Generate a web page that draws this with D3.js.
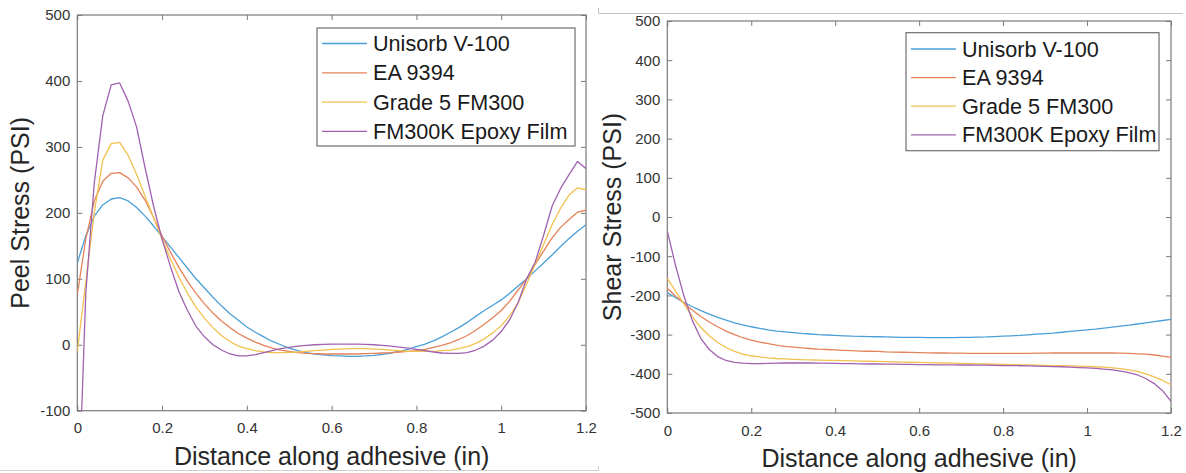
<!DOCTYPE html>
<html>
<head>
<meta charset="utf-8">
<script src="https://cdn.jsdelivr.net/npm/d3@7"></script>
<style>
  body { margin: 0; background: #fff; }
  text { font-family: "Liberation Sans", Arial, sans-serif; }
</style>
</head>
<body>
<script>
var width = 1186,
    height = 473;

// sample positions along the adhesive (in)
var xs = [0, 0.02, 0.04, 0.06, 0.08, 0.1, 0.12, 0.14, 0.16, 0.18, 0.2,
    0.22, 0.24, 0.26, 0.28, 0.3, 0.32, 0.34, 0.36, 0.38, 0.4,
    0.42, 0.44, 0.46, 0.48, 0.5, 0.52, 0.54, 0.56, 0.58, 0.6,
    0.62, 0.64, 0.66, 0.68, 0.7, 0.72, 0.74, 0.76, 0.78, 0.8,
    0.82, 0.84, 0.86, 0.88, 0.9, 0.92, 0.94, 0.96, 0.98, 1,
    1.02, 1.04, 1.06, 1.08, 1.1, 1.12, 1.14, 1.16, 1.18, 1.2];

var materials = ["Unisorb V-100", "EA 9394", "Grade 5 FM300", "FM300K Epoxy Film"];
var colors = ["#4a9fd8", "#e4825a", "#f2c04e", "#a062b0"];

// peel stress (PSI)
var peelUnisorb = [124, 165, 195, 212, 221, 223, 218, 208, 195, 180, 164,
    148, 132, 116, 100, 86, 72, 59, 47, 37, 27,
    19, 12, 5, 0, -5, -9, -12, -14, -15.5, -16.5,
    -17, -17.5, -17.5, -17, -16, -14.5, -12.5, -10, -7, -3,
    1, 6, 12, 19, 26, 34, 43, 52, 60, 68,
    78, 89, 100, 112, 124, 136, 149, 161, 172, 182];
var peelEA9394 = [76, 160, 218, 248, 260, 261, 253, 239, 219, 193, 165,
    140, 117, 96, 78, 62, 48, 36, 26, 17, 10,
    4, -1, -5, -8, -10, -12, -13, -13.5, -14, -14,
    -14, -14, -14, -13.5, -13, -12.5, -12, -11, -10, -9,
    -7, -4, -1, 3, 8, 14, 22, 31, 41, 52,
    66, 83, 100, 122, 142, 162, 178, 190, 201, 204];
var peelFM300 = [-10, 95, 200, 280, 305, 307, 287, 258, 225, 193, 160,
    130, 102, 78, 57, 40, 26, 14, 5, -2, -6,
    -9, -11, -12, -12, -11.5, -11, -10, -9, -8, -7,
    -6.5, -6, -6, -6, -6.5, -7, -8, -9, -10, -10,
    -10, -10, -9, -8, -6, -3, 2, 9, 18, 29,
    44, 64, 92, 122, 152, 182, 207, 227, 238, 235];
var peelFM300K = [-292, 78, 245, 347, 394, 397, 369, 330, 268, 210, 160,
    118, 80, 52, 28, 12, 0, -8, -14, -17, -17,
    -15, -12, -9, -6, -4, -2, -1, 0, 0.5, 1,
    1, 1, 1, 0.5, 0, -1, -2, -3.5, -5, -7,
    -9, -11, -12.5, -13, -13, -12, -8, -2, 7, 20,
    38, 64, 100, 125, 166, 210, 237, 258, 278, 267];

// shear stress (PSI)
var shearUnisorb = [-193, -206, -218, -229, -239, -248, -256, -263, -270, -275, -280,
    -284, -288, -291, -293, -295, -297, -298.5, -300, -301, -302,
    -303, -304, -304.5, -305, -305.5, -306, -306.5, -307, -307, -307,
    -307.5, -307.5, -307.5, -307.5, -307, -307, -306.5, -306, -305, -304,
    -303, -302, -300.5, -299, -297.5, -296, -294, -292, -290, -288,
    -286, -283.5, -281, -278.5, -276, -273, -270, -267, -264, -261];
var shearEA9394 = [-182, -202, -220, -238, -254, -268, -280, -291, -300, -308, -314,
    -319, -323, -327, -330, -332, -334, -335.5, -337, -338, -339,
    -340, -341, -342, -342.5, -343, -344, -344.5, -345, -345.5, -346,
    -346.5, -347, -347, -347.5, -347.5, -348, -348, -348, -348, -348,
    -348, -348, -348, -347.5, -347.5, -347, -347, -347, -347, -347,
    -347, -347, -347, -347.5, -348, -349, -350, -352, -355, -358];
var shearFM300 = [-156, -190, -222, -255, -282, -303, -320, -333, -343, -350, -354,
    -357, -359.5, -361, -362, -363, -364, -364.5, -365, -365.5, -366,
    -366.5, -367, -367.5, -368, -368.5, -369, -369.5, -370, -370.5, -371,
    -371.5, -372, -372.5, -373, -373.5, -374, -374.5, -375, -375.5, -376,
    -376.5, -377, -377.5, -378, -378.5, -379, -379.5, -380, -380.5, -381,
    -382, -383, -385, -387, -390, -394, -400, -408, -417, -428];
var shearFM300K = [-36, -125, -203, -265, -310, -338, -356, -366, -371, -373, -374,
    -374, -373.5, -373, -372.5, -372.5, -372.5, -372.5, -373, -373, -373.5,
    -374, -374, -374.5, -375, -375, -375.5, -375.5, -376, -376, -376.5,
    -376.5, -377, -377, -377, -377.5, -377.5, -378, -378, -378.5, -379,
    -379, -379.5, -380, -380.5, -381, -381.5, -382, -383, -384, -385,
    -386, -388, -390, -393, -397, -403, -412, -425, -443, -470];

var xTicks = [0, 0.2, 0.4, 0.6, 0.8, 1, 1.2];
var peelTicks = [-100, 0, 100, 200, 300, 400, 500];
var shearTicks = [-500, -400, -300, -200, -100, 0, 100, 200, 300, 400, 500];

var panels = [
    { id: "peel", left: 77.3, right: 586, top: 15, bottom: 410.7, yDomain: [-100, 500], yTicks: peelTicks,
      ylabel: "Peel Stress (PSI)", ylabX: 20, series: [peelUnisorb, peelEA9394, peelFM300, peelFM300K],
      legend: { x: 317, y: 28, w: 258, h: 118, row0: 43.5, dy: 29.3 } },
    { id: "shear", left: 667.3, right: 1171, top: 21, bottom: 413, yDomain: [-500, 500], yTicks: shearTicks,
      ylabel: "Shear Stress (PSI)", ylabX: 612, series: [shearUnisorb, shearEA9394, shearFM300, shearFM300K],
      legend: { x: 906, y: 32.7, w: 253, h: 118, row0: 49, dy: 28.6 } }
];

var svg = d3.select("body").append("svg")
    .attr("width", width)
    .attr("height", height);

// thin frames of the two pasted figures
svg.append("path")
    .attr("d", "M0,470.5H598.5V466")
    .attr("fill", "none").attr("stroke", "#cfcfcf");
svg.append("path")
    .attr("d", "M598.5,8V13.5H1183")
    .attr("fill", "none").attr("stroke", "#c4c4c4");

var fmt = d => String(d);

panels.forEach(function (p) {
    var x = d3.scaleLinear().domain([0, 1.2]).range([p.left, p.right]);
    var y = d3.scaleLinear().domain(p.yDomain).range([p.bottom, p.top]);
    var g = svg.append("g");

    g.append("clipPath").attr("id", "clip-" + p.id)
        .append("rect")
        .attr("x", p.left).attr("y", p.top)
        .attr("width", p.right - p.left).attr("height", p.bottom - p.top);

    // ticks on all four sides, pointing inward
    var axB = g.append("g").attr("transform", "translate(0," + p.bottom + ")")
        .call(d3.axisBottom(x).tickValues(xTicks).tickFormat(fmt).tickSizeInner(-5).tickSizeOuter(0).tickPadding(12));
    var axT = g.append("g").attr("transform", "translate(0," + p.top + ")")
        .call(d3.axisTop(x).tickValues(xTicks).tickFormat("").tickSizeInner(-5).tickSizeOuter(0));
    var axL = g.append("g").attr("transform", "translate(" + p.left + ",0)")
        .call(d3.axisLeft(y).tickValues(p.yTicks).tickFormat(fmt).tickSizeInner(-5).tickSizeOuter(0).tickPadding(7));
    var axR = g.append("g").attr("transform", "translate(" + p.right + ",0)")
        .call(d3.axisRight(y).tickValues(p.yTicks).tickFormat("").tickSizeInner(-5).tickSizeOuter(0));
    [axB, axT, axL, axR].forEach(function (a) {
        a.select(".domain").remove();
        a.selectAll("line").attr("stroke", "#7a7a7a");
        a.selectAll("text").attr("fill", "#333").style("font-size", "15px")
            .style("font-family", "'Liberation Sans', Arial, sans-serif");
    });

    g.append("rect")
        .attr("x", p.left).attr("y", p.top)
        .attr("width", p.right - p.left).attr("height", p.bottom - p.top)
        .attr("fill", "none").attr("stroke", "#7a7a7a").attr("stroke-width", 1.2);

    var line = d3.line()
        .x((d, i) => x(xs[i]))
        .y(d => y(d));

    g.append("g").attr("clip-path", "url(#clip-" + p.id + ")")
        .selectAll("path")
        .data(p.series)
        .enter().append("path")
        .attr("d", line)
        .attr("fill", "none")
        .attr("stroke", (d, i) => colors[i])
        .attr("stroke-width", 1.3)
        .attr("stroke-linejoin", "round");

    // axis labels
    g.append("text")
        .attr("x", (p.left + p.right) / 2)
        .attr("y", p.bottom + 45.5)
        .attr("dy", "0.35em")
        .attr("text-anchor", "middle")
        .attr("fill", "#262626")
        .style("font-size", "25px")
        .text("Distance along adhesive (in)");

    g.append("text")
        .attr("transform", "translate(" + p.ylabX + "," + (p.top + p.bottom) / 2 + ") rotate(-90)")
        .attr("dy", "0.35em")
        .attr("text-anchor", "middle")
        .attr("fill", "#262626")
        .style("font-size", "25px")
        .text(p.ylabel);

    // legend
    var L = p.legend;
    var gL = g.append("g");
    gL.append("rect")
        .attr("x", L.x).attr("y", L.y).attr("width", L.w).attr("height", L.h)
        .attr("fill", "#fff").attr("stroke", "#6f6f6f").attr("stroke-width", 1.2);
    var rows = gL.selectAll("g.row")
        .data(materials)
        .enter().append("g")
        .attr("class", "row")
        .attr("transform", (d, i) => "translate(" + L.x + "," + (L.row0 + i * L.dy) + ")");
    rows.append("line")
        .attr("x1", 5).attr("x2", 50)
        .attr("stroke", (d, i) => colors[i])
        .attr("stroke-width", 1.3);
    rows.append("text")
        .attr("x", 56)
        .attr("dy", "0.35em")
        .attr("fill", "#1a1a1a")
        .style("font-size", "21.6px")
        .text(d => d);
});
</script>
</body>
</html>
